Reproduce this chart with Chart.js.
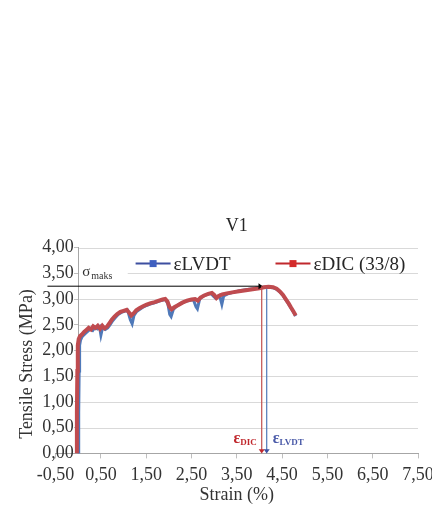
<!DOCTYPE html>
<html>
<head>
<meta charset="utf-8">
<script src="https://cdn.jsdelivr.net/npm/chart.js@4.4.0/dist/chart.umd.min.js"></script>
<style>
  html, body { margin: 0; padding: 0; background: #fff; }
  #wrap { width: 432px; height: 506px; }
</style>
</head>
<body>
<div id="wrap"><canvas id="grafico"></canvas></div>
<script>
// strain (%) vs tensile stress (MPa)
const strainDIC = [-0.03, -0.03, -0.02, -0.01, 0.01, 0.04, 0.08, 0.13, 0.18, 0.23, 0.28, 0.33, 0.38, 0.43, 0.48,
  0.53, 0.58, 0.63, 0.68, 0.74, 0.8, 0.86, 0.93, 1.0, 1.07, 1.12, 1.17, 1.22, 1.28, 1.35, 1.43, 1.51, 1.6, 1.69,
  1.78, 1.86, 1.92, 1.97, 2.01, 2.06, 2.12, 2.2, 2.3, 2.4, 2.5, 2.58, 2.64, 2.7, 2.78, 2.87, 2.95, 3.0, 3.05, 3.1,
  3.18, 3.28, 3.4, 3.55, 3.7, 3.85, 4.0, 4.1, 4.2, 4.3, 4.38, 4.45, 4.52, 4.58, 4.64, 4.7, 4.75, 4.8];
const stressDIC = [0, 0.8, 1.6, 2.1, 2.22, 2.28, 2.31, 2.36, 2.4, 2.44, 2.41, 2.47, 2.44, 2.48, 2.42,
  2.48, 2.43, 2.46, 2.52, 2.6, 2.66, 2.71, 2.75, 2.77, 2.79, 2.74, 2.68, 2.72, 2.78, 2.82, 2.86, 2.89, 2.92, 2.94,
  2.97, 2.99, 3.0, 2.95, 2.85, 2.8, 2.84, 2.88, 2.93, 2.97, 2.99, 3.0, 2.97, 3.03, 3.07, 3.1, 3.12, 3.08, 3.02, 3.06,
  3.09, 3.11, 3.13, 3.15, 3.17, 3.19, 3.21, 3.23, 3.24, 3.23, 3.2, 3.15, 3.08, 3.0, 2.92, 2.83, 2.76, 2.68];

const strainLVDT = [0.0, 0.01, 0.02, 0.03, 0.05, 0.08, 0.12, 0.17, 0.22, 0.27, 0.32, 0.37, 0.42, 0.47, 0.5,
  0.54, 0.6, 0.65, 0.7, 0.76, 0.82, 0.88, 0.95, 1.02, 1.09, 1.15, 1.19, 1.23, 1.29, 1.36, 1.44, 1.52, 1.61, 1.7,
  1.79, 1.87, 1.93, 1.98, 2.02, 2.05, 2.1, 2.17, 2.25, 2.35, 2.45, 2.54, 2.6, 2.63, 2.68, 2.76, 2.85, 2.93, 2.99,
  3.03, 3.12, 3.17, 3.21, 3.3, 3.42, 3.56, 3.7, 3.85, 4.0, 4.1, 4.2, 4.3, 4.38, 4.45, 4.52, 4.58, 4.64, 4.7, 4.75, 4.8];
const stressLVDT = [0, 0.8, 1.6, 2.1, 2.2, 2.26, 2.3, 2.34, 2.38, 2.42, 2.39, 2.45, 2.42, 2.46, 2.3,
  2.46, 2.41, 2.44, 2.5, 2.58, 2.64, 2.7, 2.74, 2.76, 2.78, 2.6, 2.52, 2.68, 2.76, 2.8, 2.85, 2.88, 2.91, 2.93,
  2.96, 2.98, 2.99, 2.9, 2.7, 2.66, 2.8, 2.86, 2.91, 2.95, 2.97, 2.99, 2.85, 2.81, 3.0, 3.06, 3.09, 3.11, 3.05,
  3.02, 3.07, 2.9, 3.06, 3.1, 3.13, 3.16, 3.18, 3.2, 3.22, 3.23, 3.23, 3.22, 3.19, 3.14, 3.07, 2.99, 2.91, 2.82, 2.75, 2.67];

const seriesLabels = ["\u03b5LVDT", "\u03b5DIC (33/8)"];

// axis ranges and ticks
const xMin = -0.5, xMax = 7.5, xStep = 1;
const yMin = 0, yMax = 4, yStep = 0.5;

// marked values
const sigmaMax = 3.25;
const epsDIC = 4.05;
const epsLVDT = 4.16;

const serif = "'Liberation Serif', 'Times New Roman', serif";
const gris = "#333333";
const rojo = "#bf4b4f";
const azul = "#4f79b9";

const coma = (v) => Number(v).toFixed(2).replace(".", ",");
const puntos = (xs, ys) => xs.map((x, i) => ({ x: x, y: ys[i] }));

function tri(ctx, x, y, dir, size, color) {
  ctx.fillStyle = color;
  ctx.beginPath();
  if (dir === "down") {
    ctx.moveTo(x - size, y - size * 1.4);
    ctx.lineTo(x + size, y - size * 1.4);
    ctx.lineTo(x, y);
  } else {
    ctx.moveTo(x - size * 1.4, y - size);
    ctx.lineTo(x - size * 1.4, y + size);
    ctx.lineTo(x, y);
  }
  ctx.closePath();
  ctx.fill();
}

// gridlines from the vertical axis, sigma / epsilon marks and the legend inside the plot
const anotaciones = {
  id: "anotaciones",
  beforeDatasetsDraw(chart) {
    const { ctx, chartArea, scales } = chart;
    const x = scales.x, y = scales.y;
    const x0 = x.getPixelForValue(0);
    ctx.save();
    ctx.strokeStyle = "#d9d9d9";
    ctx.lineWidth = 1;
    y.ticks.forEach((t) => {
      if (t.value === yMin) return;
      const py = Math.round(y.getPixelForValue(t.value)) + 0.5;
      ctx.beginPath();
      ctx.moveTo(x0 + 1, py);
      ctx.lineTo(chartArea.right, py);
      ctx.stroke();
    });
    // sigma maks label on a white box
    const ly = y.getPixelForValue(3.5);
    ctx.fillStyle = "#fff";
    ctx.fillRect(x0 + 1, ly - 9, x.getPixelForValue(1.07) - x0, 18);
    ctx.fillStyle = gris;
    ctx.textBaseline = "alphabetic";
    ctx.font = "15px " + serif;
    ctx.fillText("\u03c3", x0 + 4, ly + 3);
    ctx.font = "10px " + serif;
    ctx.fillText("maks", x0 + 13, ly + 6);
    ctx.restore();
  },
  afterDatasetsDraw(chart) {
    const { ctx, chartArea, scales } = chart;
    const x = scales.x, y = scales.y;
    const yPk = y.getPixelForValue(sigmaMax);
    const y0 = y.getPixelForValue(0);
    const xD = x.getPixelForValue(epsDIC);
    const xL = x.getPixelForValue(epsLVDT);
    ctx.save();
    // sigma max line
    ctx.strokeStyle = "#000";
    ctx.lineWidth = 1;
    ctx.beginPath();
    ctx.moveTo(x.getPixelForValue(-0.68), yPk);
    ctx.lineTo(xD - 2, yPk);
    ctx.stroke();
    tri(ctx, xD + 1, yPk, "right", 3, "#000");
    // epsilon lines
    ctx.lineWidth = 1.2;
    ctx.strokeStyle = "#c0504d";
    ctx.beginPath();
    ctx.moveTo(xD, yPk);
    ctx.lineTo(xD, y0 - 3);
    ctx.stroke();
    tri(ctx, xD, y0, "down", 3, "#c0282d");
    ctx.strokeStyle = azul;
    ctx.beginPath();
    ctx.moveTo(xL, y.getPixelForValue(3.2));
    ctx.lineTo(xL, y0 - 3);
    ctx.stroke();
    tri(ctx, xL, y0, "down", 3, "#3d4fa0");
    // epsilon labels
    const ty = y.getPixelForValue(0.3) + 5;
    ctx.font = "bold 16px " + serif;
    let w1 = ctx.measureText("\u03b5").width;
    ctx.font = "bold 9px " + serif;
    let w2 = ctx.measureText("DIC").width;
    ctx.fillStyle = "#c0282d";
    ctx.font = "bold 16px " + serif;
    ctx.fillText("\u03b5", xD - 5 - w1 - w2, ty);
    ctx.font = "bold 9px " + serif;
    ctx.fillText("DIC", xD - 5 - w2, ty + 2);
    ctx.fillStyle = "#4a5aa8";
    ctx.font = "bold 16px " + serif;
    ctx.fillText("\u03b5", xL + 6, ty);
    ctx.font = "bold 9px " + serif;
    ctx.fillText("LVDT", xL + 6 + w1, ty + 2);

    // legend
    ctx.font = "19px " + serif;
    ctx.textBaseline = "middle";
    const cy = chartArea.top + 16;
    const sw = 35, gap = 3, sep = 45;
    const colores = [["#3d4fa0", "#3f5fc0"], ["#c0282d", "#d42a2a"]];
    let lx = chartArea.left + 80;
    seriesLabels.forEach((s, i) => {
      ctx.strokeStyle = colores[i][0];
      ctx.lineWidth = 2;
      ctx.beginPath();
      ctx.moveTo(lx, cy);
      ctx.lineTo(lx + sw, cy);
      ctx.stroke();
      ctx.fillStyle = colores[i][1];
      ctx.fillRect(lx + sw / 2 - 3.5, cy - 3.5, 7, 7);
      ctx.fillStyle = "#262626";
      ctx.fillText(s, lx + sw + gap, cy + 1);
      lx += sw + gap + ctx.measureText(s).width + sep;
    });
    ctx.restore();
  },
};

const fuente = { family: serif, size: 18 };

new Chart("grafico", {
  type: "line",
  data: {
    datasets: [
      {
        label: seriesLabels[1],
        data: puntos(strainDIC, stressDIC),
        borderColor: rojo,
        backgroundColor: rojo,
        borderWidth: 4,
        pointRadius: 0,
        tension: 0,
        yAxisID: "y",
      },
      {
        label: seriesLabels[0],
        data: puntos(strainLVDT, stressLVDT),
        borderColor: azul,
        backgroundColor: azul,
        borderWidth: 3,
        pointRadius: 0,
        tension: 0,
        yAxisID: "y",
      },
    ],
  },
  options: {
    responsive: true,
    maintainAspectRatio: false,
    animation: false,
    layout: { padding: { top: 215, right: 0, bottom: 2, left: 0 } },
    plugins: {
      legend: { display: false },
      tooltip: { enabled: false },
      title: {
        display: true,
        text: "V1",
        fullSize: false,
        color: "#262626",
        font: { family: serif, size: 18, weight: "normal" },
        padding: { top: 0, bottom: 11 },
      },
    },
    scales: {
      x: {
        type: "linear",
        min: xMin,
        max: xMax,
        ticks: { stepSize: xStep, callback: coma, font: fuente, color: gris, maxRotation: 0, autoSkip: false, padding: 6 },
        grid: { drawOnChartArea: false, tickLength: 5, color: "#bfbfbf" },
        border: { color: "#a6a6a6" },
        title: {
          display: true,
          text: "Strain (%)",
          font: { family: serif, size: 18, lineHeight: 1 },
          color: gris,
          padding: { top: -6, bottom: 0 },
        },
        // the last label runs to the edge of the picture, as in the original
        afterFit: (s) => { s.paddingRight = 14; },
      },
      y: {
        type: "linear",
        position: { x: 0 },
        min: yMin,
        max: yMax,
        // labels sit right on the axis when it is placed at x = 0, the space keeps them off it
        ticks: { stepSize: yStep, callback: (v) => coma(v) + " ", font: fuente, color: gris },
        grid: { drawOnChartArea: false, tickLength: 4, color: "#bfbfbf" },
        border: { color: "#a6a6a6" },
      },
      yTitulo: {
        type: "linear",
        position: "left",
        ticks: { display: false },
        grid: { display: false },
        border: { display: false },
        title: {
          display: true,
          text: "Tensile Stress (MPa)      ",
          font: fuente,
          color: gris,
          padding: { top: 16, bottom: 10 },
        },
      },
    },
  },
  plugins: [anotaciones],
});
</script>
</body>
</html>
